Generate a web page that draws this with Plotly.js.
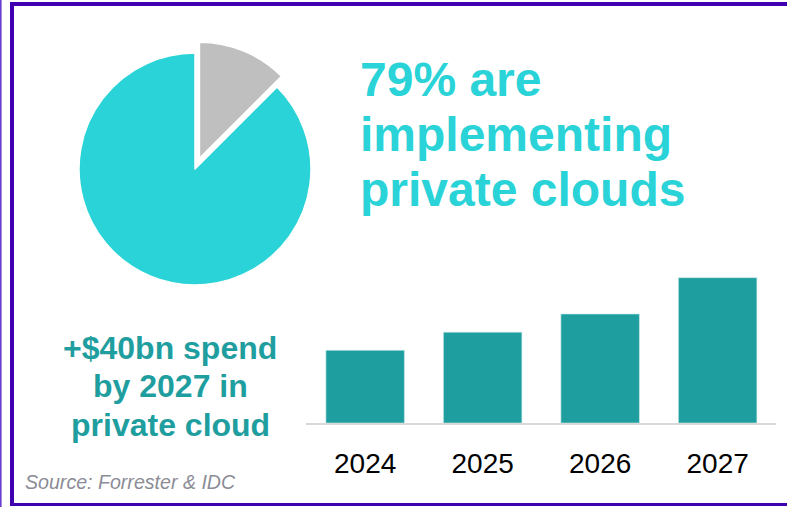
<!DOCTYPE html>
<html>
<head>
<meta charset="utf-8">
<script src="https://cdn.plot.ly/plotly-3.0.1.min.js"></script>
<style>
  html, body { margin: 0; padding: 0; background: #ffffff; }
  #chart { width: 787px; height: 507px; }
</style>
</head>
<body>
<div id="chart"></div>
<script>
// ---- data ----
const pieLabels = ["Not implementing", "Implementing private cloud"];
const pieValues = [12.5, 87.5];
const years = ["2024", "2025", "2026", "2027"];
const spendValues = [20, 25, 30, 40];
const headlineLines = ["79% are", "implementing", "private clouds"];
const spendLines = ["+$40bn spend", "by 2027 in", "private cloud"];
const sourceText = "Source: Forrester & IDC";

// ---- layout helpers (pixels -> paper) ----
const W = 787, H = 507;
const px = x => x / W;
const py = y => 1 - y / H;

const teal = "#29d3d7";
const darkTeal = "#1f9e9f";
const purple = "#3f00b0";

const pieTrace = {
  type: "pie",
  labels: pieLabels,
  values: pieValues,
  sort: false,
  direction: "clockwise",
  rotation: 0,
  pull: [0.1, 0],
  textinfo: "none",
  hoverinfo: "label+percent",
  marker: { colors: ["#bfbfbf", teal], line: { color: "#ffffff", width: 1.5 } },
  domain: { x: [px(67.4), px(322.6)], y: [py(296.6), py(41.4)] },
  showlegend: false
};

const barTrace = {
  type: "bar",
  x: years,
  y: spendValues,
  marker: { color: darkTeal, line: { color: "#c8eaea", width: 0.6 } },
  xaxis: "x",
  yaxis: "y",
  showlegend: false,
  hoverinfo: "x+y"
};

const annotations = [];
const headBaselines = [97, 152, 207];
headlineLines.forEach((t, i) => {
  annotations.push({
    text: "<b>" + t + "</b>", xref: "paper", yref: "paper",
    x: px(358), y: py(headBaselines[i] + 11), xanchor: "left", yanchor: "bottom",
    showarrow: false, font: { family: "Liberation Sans, Arial, sans-serif", size: 48, color: teal }
  });
});
const spendBaselines = [360, 398.5, 437];
spendLines.forEach((t, i) => {
  annotations.push({
    text: "<b>" + t + "</b>", xref: "paper", yref: "paper",
    x: px(170), y: py(spendBaselines[i] + 7.5), xanchor: "center", yanchor: "bottom",
    showarrow: false, font: { family: "Liberation Sans, Arial, sans-serif", size: 32, color: darkTeal }
  });
});
annotations.push({
  text: "<i>" + sourceText + "</i>", xref: "paper", yref: "paper",
  x: px(23), y: py(490 + 4.5), xanchor: "left", yanchor: "bottom",
  showarrow: false, font: { family: "Liberation Sans, Arial, sans-serif", size: 19.6, color: "#8c8c96" }
});

const shapes = [
  { type: "rect", xref: "paper", yref: "paper", x0: px(0), x1: px(1.6), y0: py(507), y1: py(0), line: { width: 0 }, fillcolor: "#6a3fd0" },
  { type: "rect", xref: "paper", yref: "paper", x0: px(10), x1: px(14), y0: py(506), y1: py(2), line: { width: 0 }, fillcolor: purple },
  { type: "rect", xref: "paper", yref: "paper", x0: px(10), x1: px(787), y0: py(6), y1: py(2), line: { width: 0 }, fillcolor: purple },
  { type: "rect", xref: "paper", yref: "paper", x0: px(10), x1: px(787), y0: py(506), y1: py(503), line: { width: 0 }, fillcolor: purple }
];

const yTop = 260, yBase = 423;
const pxPerUnit = (yBase - 277.7) / 40;

const layout = {
  width: W, height: H,
  margin: { l: 0, r: 0, t: 0, b: 0, pad: 0 },
  paper_bgcolor: "#ffffff",
  plot_bgcolor: "rgba(0,0,0,0)",
  bargap: 0.332,
  xaxis: {
    domain: [px(306.4), px(776.4)],
    type: "category",
    showline: true, linecolor: "#d9d9d9", linewidth: 1.5,
    showgrid: false, zeroline: false, ticks: "",
    ticklabelstandoff: 15,
    tickfont: { family: "Liberation Sans, Arial, sans-serif", size: 28, color: "#000000" },
    fixedrange: true
  },
  yaxis: {
    domain: [py(yBase), py(yTop)],
    range: [0, (yBase - yTop) / pxPerUnit],
    visible: false, showgrid: false, zeroline: false, fixedrange: true
  },
  annotations: annotations,
  shapes: shapes,
  showlegend: false
};

Plotly.newPlot("chart", [pieTrace, barTrace], layout, { displayModeBar: false, staticPlot: true });
</script>
</body>
</html>
